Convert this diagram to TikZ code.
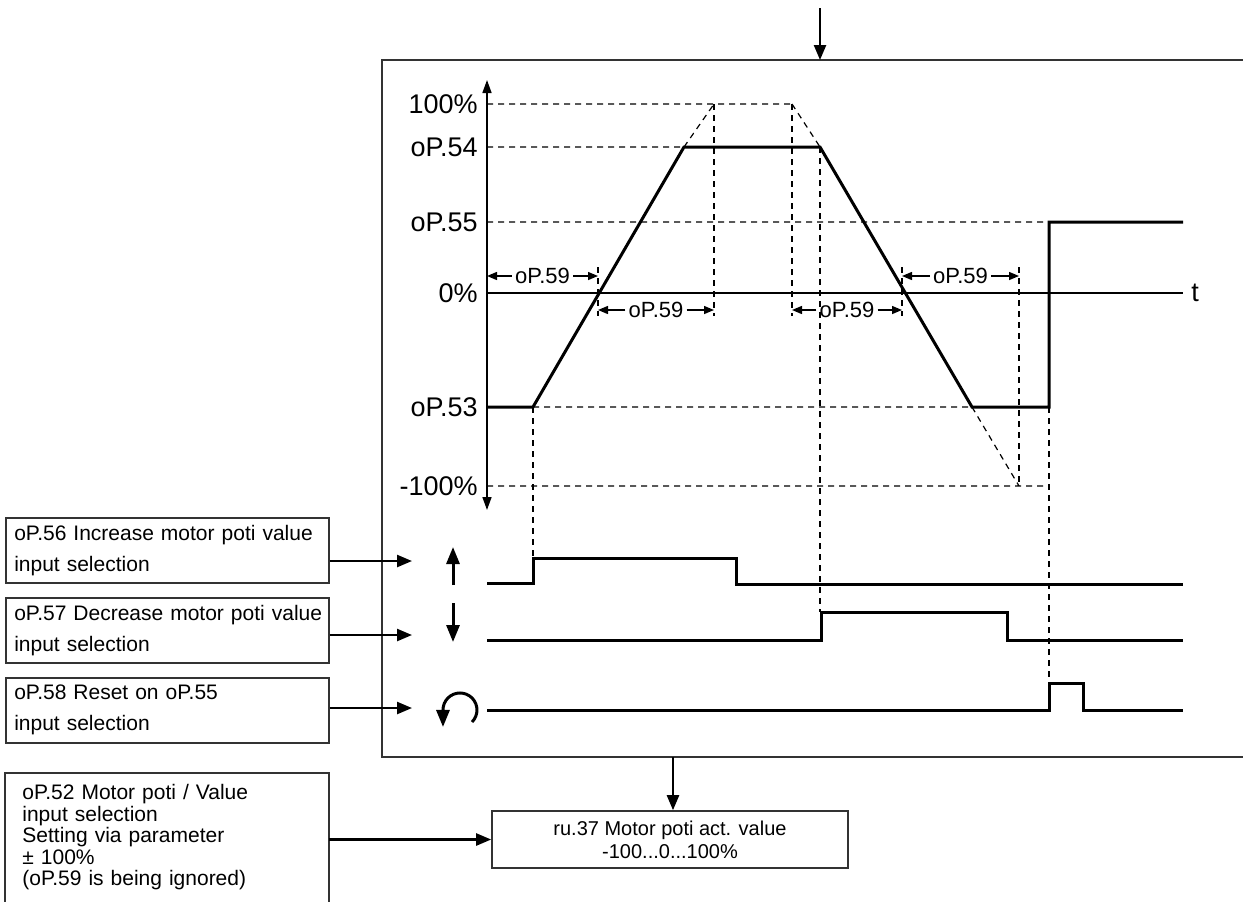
\documentclass[tikz,border=0pt]{standalone}
\usepackage{fontspec}
\setmainfont{Liberation Sans}
\usetikzlibrary{arrows.meta, positioning}
\tikzset{
  every picture/.style={font=\fontsize{10.5}{12}\selectfont},
  box/.style={draw=black!80, line width=0.8pt, anchor=north west, minimum width=161.5pt, text width=153pt,
              inner xsep=4.25pt, align=left, font=\fontsize{10.5}{15.5}\selectfont, minimum height=32.5pt},
  arrow/.style={-{Triangle[length=7.5pt, width=6pt]}, line width=1.2pt},
  sym/.style={-{Triangle[length=8.5pt, width=6.5pt]}, line width=1.5pt},
  sig/.style={line width=1.5pt},
  guide/.style={line width=0.6pt, dash pattern=on 3pt off 2.5pt},
  dim/.style={-{Triangle[length=5pt, width=4pt]}, line width=0.7pt},
  lvl/.style={anchor=east, inner sep=0pt, font=\fontsize{13.5}{15}\selectfont},
}
\begin{document}
\begin{tikzpicture}[x=0.5pt, y=-0.5pt]
  \useasboundingbox (0,0) rectangle (1243,901);
  % frame with feed arrow on top
  \draw[line width=0.8pt, draw=black!80] (1243,60) -| (382,757) -- (1243,757);
  \coordinate (feed) at (820,8);
  \coordinate (feed end) at (820,60);
  \draw[arrow] (feed) -- (feed end);
  % axes
  \draw[{Triangle[length=6.5pt, width=4.5pt]}-{Triangle[length=6.5pt, width=4.5pt]}, line width=0.8pt] (487,510) -- (487,80);
  \draw[line width=0.7pt] (487,293) -- (1183,293);
  \node[lvl, anchor=west] (t) at (1191,293) {t};
  \foreach \txt/\y [count=\i] in {100\%/104, oP.54/147, oP.55/222, 0\%/293, oP.53/407, -100\%/486}
    \node[lvl] (level\i) at (478,\y) {\txt};
  % dashed guides
  \draw[guide] (487,104) -- (792,104) (487,147) -- (684,147) (487,222) -- (1049,222)
               (533,407) -- (972,407) (487,486) -- (1049,486)
               (684,147) -- (714,104) (792,104) -- (820,147) (972,407) -- (1019,486);
  \draw[guide] (533,407) -- (533,558) (714,104) -- (714,316) (792,104) -- (792,316)
               (598,267) -- (598,316) (902,267) -- (902,316) (1019,267) -- (1019,486)
               (820,147) -- (820,612) (1049,407) -- (1049,683);
  % motor poti value
  \draw[sig] (487,407) -- (533,407) -- (684,147) -- (820,147) -- (972,407) -- (1049,407) -- (1049,222) -- (1183,222);
  % ramp times
  \foreach \a/\b/\y [count=\i] in {487/598/276, 902/1019/276, 598/714/310, 792/902/310} {
    \node[inner sep=1.5pt, font=\fontsize{11}{12}\selectfont] (span\i) at ({(\a+\b)/2},\y) {oP.59};
    \draw[dim] (span\i) -- (\a,\y);
    \draw[dim] (span\i) -- (\b,\y);
  }
  % input signals
  \draw[sig] (487,583) -| (533,558) -| (736,584) -- (1183,584);
  \draw[sig] (487,640) -| (821,612) -| (1007,640) -- (1183,640);
  \draw[sig] (487,710) -| (1049,683) -| (1083,710) -- (1183,710);
  \draw[sym] (453,585) -- (453,547);
  \draw[sym] (453,603) -- (453,642);
  \draw[sym] (472,722) arc[start angle=45, end angle=-180, radius=17] -- ++(0,17);
  % parameter boxes
  \node[box] (inc) at (5,517) {oP.56 Increase motor poti value\\input selection};
  \node[box] (dec) at (5,597) {\mbox{oP.57 Decrease motor poti value}\\input selection};
  \node[box] (rst) at (5,677) {oP.58 Reset on oP.55\\input selection};
  \coordinate (inc in) at (412,561);
  \coordinate (dec in) at (412,635);
  \coordinate (rst in) at (412,708);
  \draw[arrow] (inc.east |- inc in) -- (inc in);
  \draw[arrow] (dec.east |- dec in) -- (dec in);
  \draw[arrow] (rst.east |- rst in) -- (rst in);
  % value setting and output
  \node[anchor=north west, minimum width=161.5pt, text width=144.5pt, inner xsep=8.5pt, inner ysep=5.6pt,
        align=left, font=\fontsize{10.5}{10.75}\selectfont] (pot) at (5,773)
        {oP.52 Motor poti / Value\\input selection\\Setting via parameter\\± 100\%\\(oP.59 is being ignored)};
  \coordinate (page foot) at (0,910);
  \draw[line width=0.8pt, draw=black!80] (pot.north west |- page foot) -- (pot.north west) -- (pot.north east) -- (pot.north east |- page foot);
  \node[draw=black!80, line width=0.8pt, minimum width=178pt, minimum height=28.5pt, inner sep=0pt,
        align=center, font=\fontsize{10}{11.5}\selectfont] (act) at (670,839.5) {ru.37 Motor poti act. value\\-100...0...100\%};
  \draw[arrow] (pot.east |- act.west) -- (act.west);
  \coordinate (out) at (673,757);
  \draw[arrow] (out) -- (out |- act.north);
\end{tikzpicture}
\end{document}
